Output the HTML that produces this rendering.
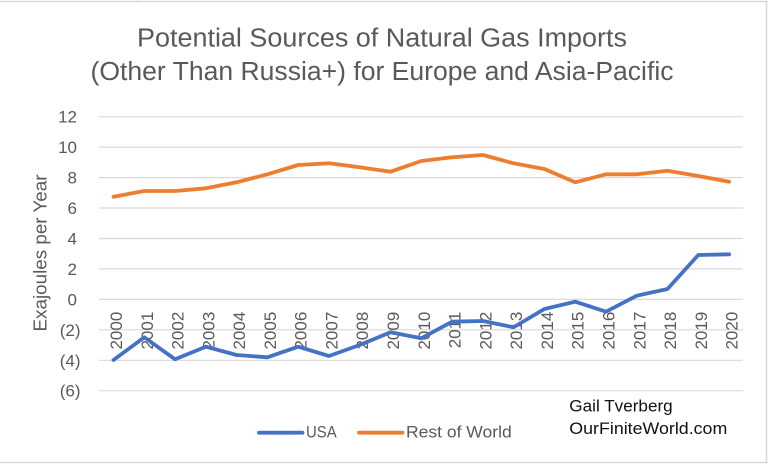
<!DOCTYPE html>
<html>
<head>
<meta charset="utf-8">
<style>
  html,body{margin:0;padding:0;background:#fff;}
  svg{display:block;}
  text{font-family:"Liberation Sans", sans-serif;}
</style>
</head>
<body>
<svg width="768" height="464" viewBox="0 0 768 464" xmlns="http://www.w3.org/2000/svg">
  <rect x="0" y="0" width="768" height="464" fill="#ffffff"/>
  <!-- outer frame -->
  <line x1="0" y1="1.5" x2="768" y2="1.5" stroke="#d9d9d9" stroke-width="1.5"/>
  <line x1="766.5" y1="1" x2="766.5" y2="463" stroke="#d9d9d9" stroke-width="1.5"/>
  <line x1="0" y1="462.5" x2="768" y2="462.5" stroke="#d9d9d9" stroke-width="1.5"/>
  <line x1="138" y1="0" x2="138" y2="1" stroke="#d9d9d9" stroke-width="1"/>

  <!-- title -->
  <text x="382" y="46.7" text-anchor="middle" font-size="25.5" fill="#595959" textLength="490" lengthAdjust="spacingAndGlyphs">Potential Sources of Natural Gas Imports</text>
  <text x="382" y="80" text-anchor="middle" font-size="25.5" fill="#595959" textLength="583" lengthAdjust="spacingAndGlyphs">(Other Than Russia+) for Europe and Asia-Pacific</text>

  <!-- gridlines -->
  <g stroke="#d9d9d9" stroke-width="1.2">
    <line x1="99" y1="116.7" x2="743" y2="116.7"/>
    <line x1="99" y1="147.1" x2="743" y2="147.1"/>
    <line x1="99" y1="177.6" x2="743" y2="177.6"/>
    <line x1="99" y1="208.0" x2="743" y2="208.0"/>
    <line x1="99" y1="238.5" x2="743" y2="238.5"/>
    <line x1="99" y1="268.9" x2="743" y2="268.9"/>
    <line x1="99" y1="299.4" x2="743" y2="299.4"/>
    <line x1="99" y1="329.8" x2="743" y2="329.8"/>
    <line x1="99" y1="360.3" x2="743" y2="360.3"/>
    <line x1="99" y1="390.7" x2="743" y2="390.7"/>
  </g>

  <!-- y labels -->
  <g font-size="17" fill="#595959" text-anchor="end">
    <text x="77" y="122.7">12</text>
    <text x="77" y="153.1">10</text>
    <text x="77" y="183.6">8</text>
    <text x="77" y="214.0">6</text>
    <text x="77" y="244.5">4</text>
    <text x="77" y="274.9">2</text>
    <text x="77" y="305.4">0</text>
    <text x="80.5" y="335.8">(2)</text>
    <text x="80.5" y="366.3">(4)</text>
    <text x="80.5" y="396.7">(6)</text>
  </g>

  <!-- y axis title -->
  <text transform="translate(46.5,253) rotate(-90)" text-anchor="middle" font-size="18.5" fill="#595959" textLength="157" lengthAdjust="spacingAndGlyphs">Exajoules per Year</text>

  <!-- x labels (rotated) -->
  <g font-size="17" fill="#595959" text-anchor="end">
    <text transform="translate(122.0,311.7) rotate(-90)">2000</text>
    <text transform="translate(152.8,311.7) rotate(-90)">2001</text>
    <text transform="translate(183.6,311.7) rotate(-90)">2002</text>
    <text transform="translate(214.3,311.7) rotate(-90)">2003</text>
    <text transform="translate(245.1,311.7) rotate(-90)">2004</text>
    <text transform="translate(275.9,311.7) rotate(-90)">2005</text>
    <text transform="translate(306.7,311.7) rotate(-90)">2006</text>
    <text transform="translate(337.5,311.7) rotate(-90)">2007</text>
    <text transform="translate(368.2,311.7) rotate(-90)">2008</text>
    <text transform="translate(399.0,311.7) rotate(-90)">2009</text>
    <text transform="translate(429.8,311.7) rotate(-90)">2010</text>
    <text transform="translate(460.6,311.7) rotate(-90)">2011</text>
    <text transform="translate(491.4,311.7) rotate(-90)">2012</text>
    <text transform="translate(522.1,311.7) rotate(-90)">2013</text>
    <text transform="translate(552.9,311.7) rotate(-90)">2014</text>
    <text transform="translate(583.7,311.7) rotate(-90)">2015</text>
    <text transform="translate(614.5,311.7) rotate(-90)">2016</text>
    <text transform="translate(645.3,311.7) rotate(-90)">2017</text>
    <text transform="translate(676.0,311.7) rotate(-90)">2018</text>
    <text transform="translate(706.8,311.7) rotate(-90)">2019</text>
    <text transform="translate(737.6,311.7) rotate(-90)">2020</text>
  </g>

  <!-- Rest of World series -->
  <polyline fill="none" stroke="#ed7d31" stroke-width="3.8" stroke-linejoin="round" stroke-linecap="round"
    points="113.5,196.7 144.3,191 175.1,191 205.8,188.3 236.6,182.3 267.4,174.3 298.2,165 329.0,163.3 359.7,167.3 390.5,171.7 421.3,161 452.1,157.3 482.9,155 513.6,163.3 544.4,169 575.2,182.3 606.0,174.3 636.8,174.3 667.5,170.7 698.3,176 729.1,181.7"/>

  <!-- USA series -->
  <polyline fill="none" stroke="#4472c4" stroke-width="3.8" stroke-linejoin="round" stroke-linecap="round"
    points="113.5,360 144.3,337.3 175.1,359.3 205.8,346.7 236.6,355 267.4,357.3 298.2,346.7 329.0,356 359.7,345 390.5,332.3 421.3,338.3 452.1,321.7 482.9,321 513.6,327.3 544.4,309 575.2,301.7 606.0,311.7 636.8,295.7 667.5,289 698.3,255 729.1,254.3"/>

  <!-- legend -->
  <line x1="259" y1="432.7" x2="302.5" y2="432.7" stroke="#4472c4" stroke-width="3.8" stroke-linecap="round"/>
  <text x="306" y="437.7" font-size="16.5" fill="#595959" textLength="30.7" lengthAdjust="spacingAndGlyphs">USA</text>
  <line x1="359" y1="432.7" x2="402.5" y2="432.7" stroke="#ed7d31" stroke-width="3.8" stroke-linecap="round"/>
  <text x="406" y="437.7" font-size="16.5" fill="#595959" textLength="105.7" lengthAdjust="spacingAndGlyphs">Rest of World</text>

  <!-- attribution -->
  <text x="569.3" y="411.7" font-size="16.5" fill="#111111" textLength="103.4" lengthAdjust="spacingAndGlyphs">Gail Tverberg</text>
  <text x="569.3" y="434" font-size="16.5" fill="#111111" textLength="158" lengthAdjust="spacingAndGlyphs">OurFiniteWorld.com</text>
</svg>
</body>
</html>
